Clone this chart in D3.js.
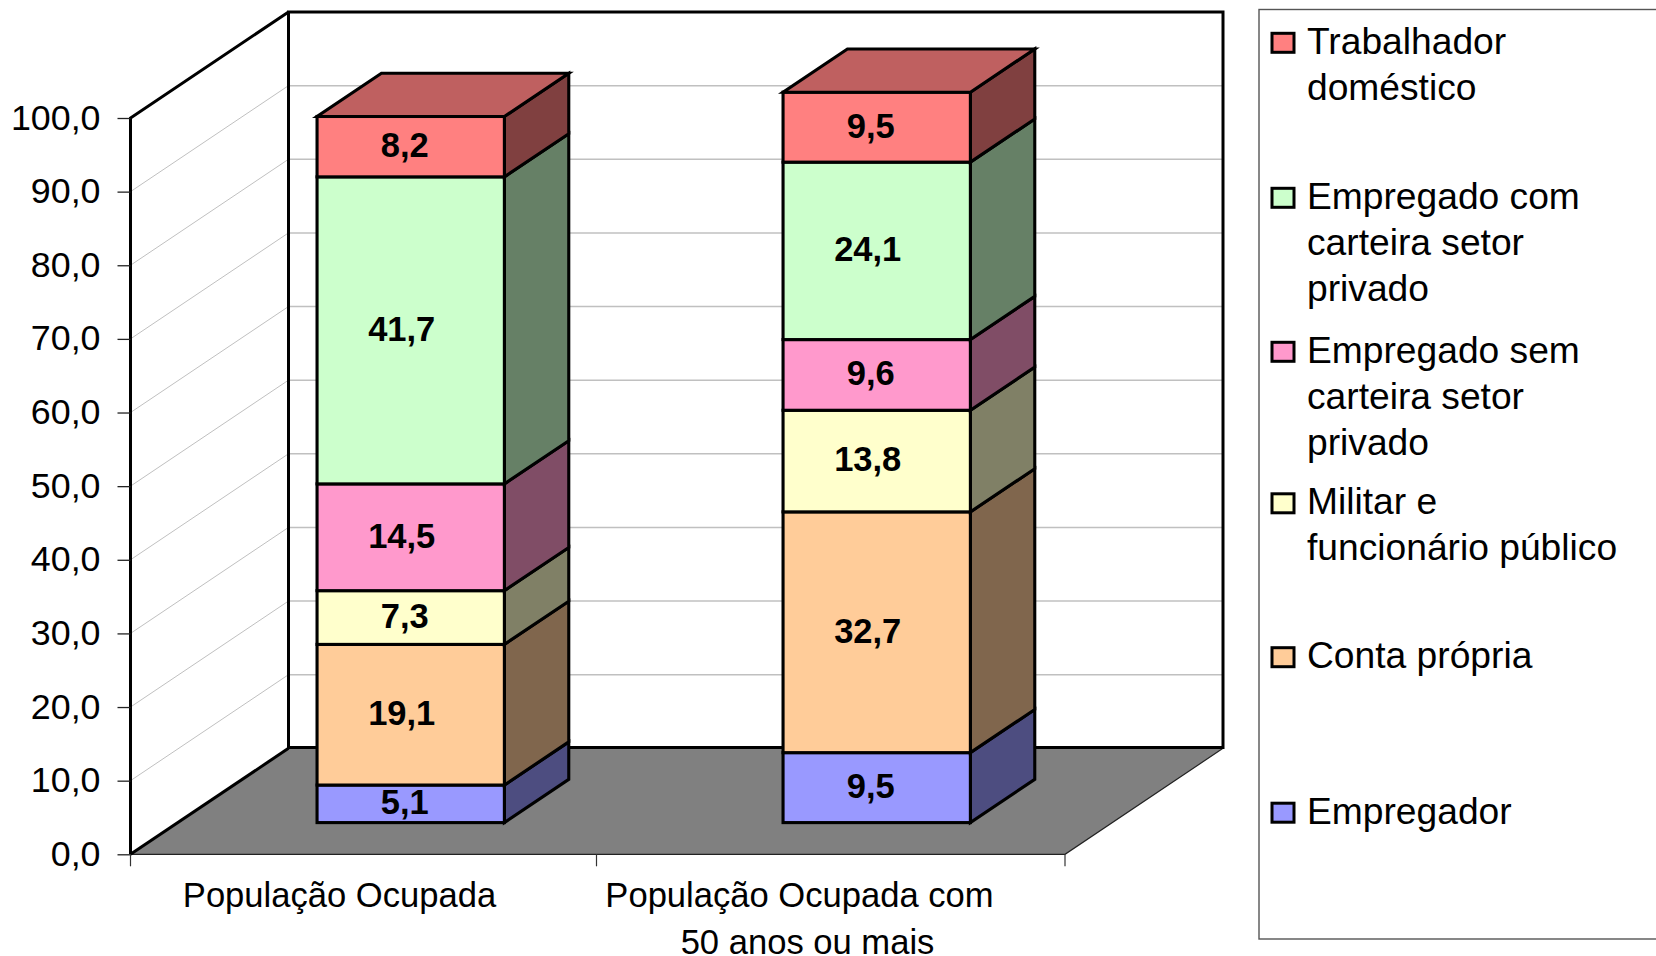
<!DOCTYPE html>
<html><head><meta charset="utf-8">
<script src="https://d3js.org/d3.v7.min.js"></script>
<style>
html,body{margin:0;padding:0;background:#fff;overflow:hidden}
svg{display:block}
text{font-family:"Liberation Sans",Arial,sans-serif;fill:#000}
</style></head><body>
<svg id="c" width="1656" height="956"></svg>
<script>
// ---- data
const categories = ["População Ocupada", "População Ocupada com|50 anos ou mais"];
const seriesNames = ["Empregador","Conta própria","Militar e funcionário público","Empregado sem carteira setor privado","Empregado com carteira setor privado","Trabalhador doméstico"];
const empregador = [5.1, 9.5];
const contaPropria = [19.1, 32.7];
const militar = [7.3, 13.8];
const semCarteira = [14.5, 9.6];
const comCarteira = [41.7, 24.1];
const domestico = [8.2, 9.5];
const colors = ["#9999FF","#FFCC99","#FFFFCC","#FF99CC","#CCFFCC","#FF8080"];
const legendLines = [["Trabalhador","doméstico"],["Empregado com","carteira setor","privado"],["Empregado sem","carteira setor","privado"],["Militar e","funcionário público"],["Conta própria"],["Empregador"]];
const legendColors = ["#FF8080","#CCFFCC","#FF99CC","#FFFFCC","#FFCC99","#9999FF"];
const yTicks = [0,10,20,30,40,50,60,70,80,90,100];

// ---- layout
const svg = d3.select("#c");
const fmt = v => v.toFixed(1).replace(".", ",");
const x0 = 130.5, x1 = 1065, yBase = 854.3, yTop = 118;
const depthX = 158, depthY = 106;           // floor depth
const barFront = 0.2925, barBack = 0.70;    // bar position along the depth
const y = d3.scaleLinear().domain([0,100]).range([yBase,yTop]);
const x = d3.scaleBand().domain(categories).range([x0,x0+932]).paddingInner(0.598).paddingOuter(0.299);
const rows = [empregador,contaPropria,militar,semCarteira,comCarteira,domestico];
const stackData = categories.map((c,i)=>{ const o={cat:c}; seriesNames.forEach((s,k)=>o[s]=rows[k][i]); return o; });
const stacked = d3.stack().keys(seriesNames)(stackData);
const shade = (c,f)=>{ const r=d3.rgb(c); return d3.rgb(r.r*f,r.g*f,r.b*f).formatHex(); };
const path = pts => "M"+pts.map(p=>p.join(",")).join("L")+"Z";

// back wall + gridlines
svg.append("rect").attr("x",x0+depthX).attr("y",y(100)-depthY).attr("width",x1-x0).attr("height",y(0)-y(100))
  .attr("fill","#fff");
const gridV = yTicks.filter(v=>v>0&&v<100);
svg.append("g").selectAll("line").data(gridV).join("line")
  .attr("x1",x0+depthX).attr("x2",x1+depthX).attr("y1",d=>y(d)-depthY).attr("y2",d=>y(d)-depthY)
  .attr("stroke","#c0c0c0").attr("stroke-width",1.5);
svg.append("g").selectAll("line").data(gridV).join("line")
  .attr("x1",x0).attr("x2",x0+depthX).attr("y1",d=>y(d)).attr("y2",d=>y(d)-depthY)
  .attr("stroke","#c0c0c0").attr("stroke-width",1);
// floor
svg.append("path").attr("d",path([[x0,y(0)],[x0+depthX,y(0)-depthY],[x1+depthX,y(0)-depthY],[x1,y(0)]]))
  .attr("fill","#808080");
svg.append("path").attr("d",`M${x0},${y(0)}L${x1},${y(0)}L${x1+depthX},${y(0)-depthY}`)
  .attr("fill","none").attr("stroke","#222").attr("stroke-width",1.2);
// wall outlines
svg.append("rect").attr("x",x0+depthX).attr("y",y(100)-depthY).attr("width",x1-x0).attr("height",y(0)-y(100)-0.8)
  .attr("fill","none").attr("stroke","#000").attr("stroke-width",3);
svg.append("path").attr("d",`M${x0},${y(0)}L${x0},${y(100)}L${x0+depthX},${y(100)-depthY}`)
  .attr("fill","none").attr("stroke","#000").attr("stroke-width",3);
svg.append("line").attr("x1",x0).attr("y1",y(0)).attr("x2",x0+depthX).attr("y2",y(0)-depthY)
  .attr("stroke","#000").attr("stroke-width",3);

// y axis
const axY = svg.append("g").attr("transform",`translate(${x0},0)`)
  .call(d3.axisLeft(y).tickValues(yTicks).tickSize(13).tickPadding(17).tickFormat(fmt));
axY.select(".domain").remove();
axY.selectAll("line").attr("stroke","#222").attr("stroke-width",1.3);
axY.selectAll("text").attr("font-size",35.8).attr("font-family","Liberation Sans").attr("dy","0.31em");

// x axis ticks and labels
const xTicks = [x0, x0+x.step(), x1];
svg.append("g").selectAll("line").data(xTicks).join("line")
  .attr("x1",d=>d).attr("x2",d=>d).attr("y1",y(0)).attr("y2",y(0)+12)
  .attr("stroke","#333").attr("stroke-width",1.2);
const xLabelOffsets = [[-24],[-30,-22]];
categories.forEach((c,i)=>{
  c.split("|").forEach((ln,k)=>{
    svg.append("text").attr("text-anchor","middle").attr("font-size",34.6)
      .attr("x",x(c)+x.bandwidth()/2+xLabelOffsets[i][k]).attr("y",k?953.5:906.5).text(ln);
  });
});

// bars
const fx = barFront*depthX+1, fy = barFront*depthY+0.7;
const bx = (barBack-barFront)*depthX, by = (barBack-barFront)*depthY;
const barW = x.bandwidth();
const bars = svg.append("g").attr("stroke","#000").attr("stroke-width",3.1).attr("stroke-linejoin","miter");
categories.forEach((c,i)=>{
  const L = x(c)+fx, R = L+barW;
  stacked.forEach((s,k)=>{
    const top = y(s[i][1])-fy, bot = y(s[i][0])-fy;
    bars.append("path").attr("d",path([[R,top],[R+bx,top-by],[R+bx,bot-by],[R,bot]])).attr("fill",shade(colors[k],0.5));
    bars.append("rect").attr("x",L).attr("y",top).attr("width",barW).attr("height",bot-top).attr("fill",colors[k]);
    if(k===stacked.length-1)
      bars.append("path").attr("d",path([[L,top],[R,top],[R+bx,top-by],[L+bx,top-by]])).attr("fill",shade(colors[k],0.75));
  });
});
// value labels
categories.forEach((c,i)=>{
  const L = x(c)+fx;
  stacked.forEach((s,k)=>{
    const v = rows[k][i];
    svg.append("text").attr("text-anchor","middle").attr("font-size",34.5).attr("font-weight","bold")
      .attr("x",L+barW/2-6-(v>=10?3:0)).attr("y",(y(s[i][0])+y(s[i][1]))/2-fy-2).attr("dy","0.36em").text(fmt(v));
  });
});

// legend
const legendYs = [42.8,197.8,351.8,503.3,657.2,812.7];
svg.append("rect").attr("x",1259).attr("y",9.5).attr("width",460).attr("height",929.5)
  .attr("fill","none").attr("stroke","#555").attr("stroke-width",1.4);
legendLines.forEach((lines,i)=>{
  const cy = legendYs[i];
  svg.append("rect").attr("x",1272).attr("y",cy-9.5).attr("width",22).attr("height",19)
    .attr("fill",legendColors[i]).attr("stroke","#000").attr("stroke-width",3);
  lines.forEach((t,j)=>{
    svg.append("text").attr("x",1307).attr("y",cy+11+j*46).attr("font-size",37.2).text(t);
  });
});
</script>
</body></html>
